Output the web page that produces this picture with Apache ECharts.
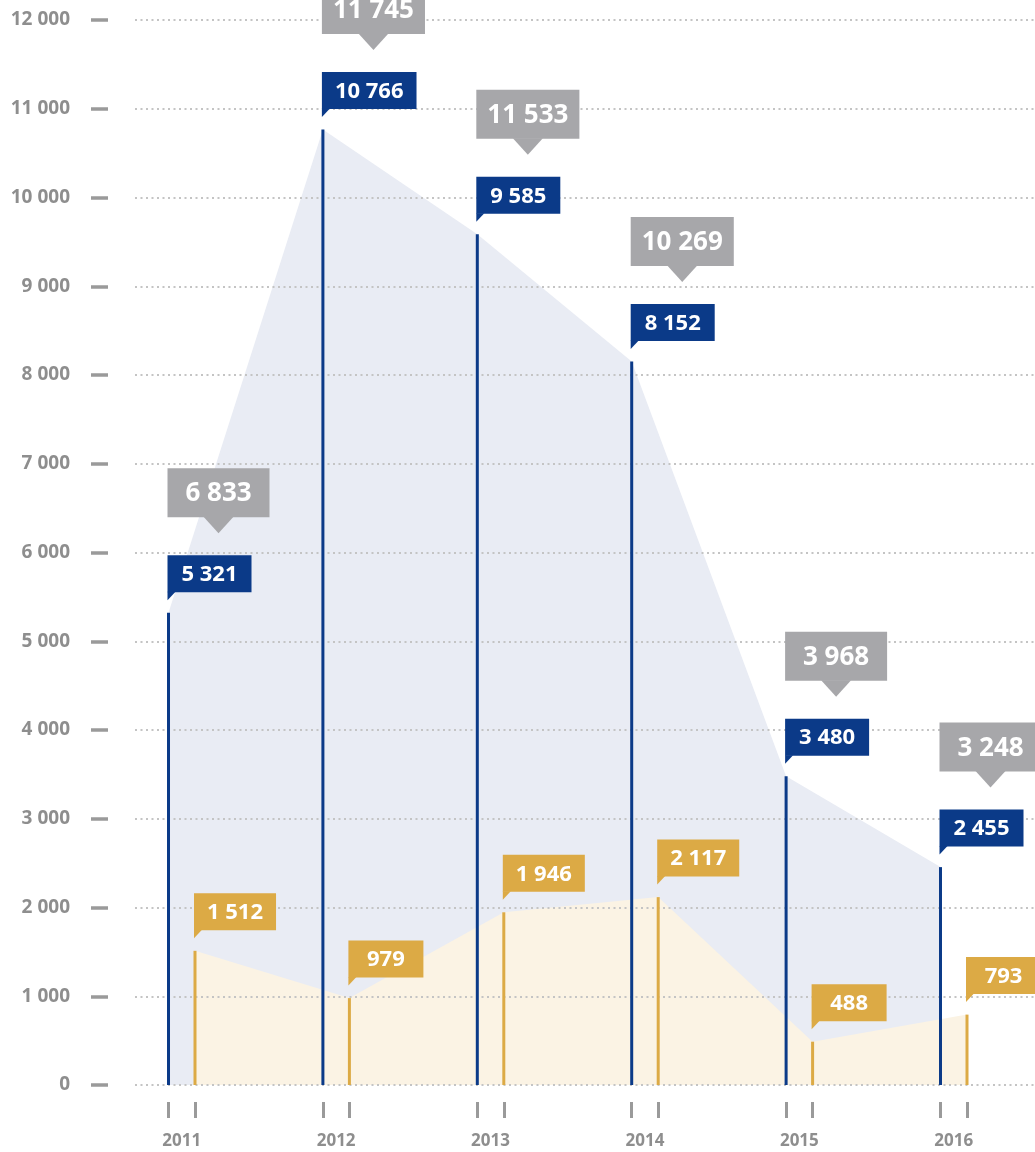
<!DOCTYPE html>
<html><head><meta charset="utf-8">
<script src="https://cdn.jsdelivr.net/npm/echarts@6/dist/echarts.min.js"></script>
<style>html,body{margin:0;padding:0;background:#fff}#c{width:1035px;height:1152px}</style>
</head><body><div id="c"></div>
<script>
// ---- data ----
const years = ['2011', '2012', '2013', '2014', '2015', '2016'];
const blueValues = [5321, 10766, 9585, 8152, 3480, 2455];
const yellowValues = [1512, 979, 1946, 2117, 488, 793];
const totalValues = [6833, 11745, 11533, 10269, 3968, 3248];
const yMin = 0, yMax = 12000, yStep = 1000;

// ---- style ----
const BLUE = '#0b3a88', YELLOW = '#dcaa45', GRAY = '#a7a7aa';
const BLUE_AREA = '#e9ecf4', YELLOW_AREA = '#fbf3e4';
const AXIS_TEXT = '#8e8e8e', TICK = '#9a9a9a';
const FONT = '"Open Sans", "DejaVu Sans", sans-serif';
const OFF = 0.1716;   // horizontal shift of the second bar within a year

const fmt = n => String(n).replace(/\B(?=(\d{3})+(?!\d))/g, ' ');
const mctx = document.createElement('canvas').getContext('2d');
function textW(t, size) { mctx.font = 'bold ' + size + 'px ' + FONT; return mctx.measureText(t).width; }

function makeRender(color, minW, withTotal) {
  return function (params, api) {
    const x = api.value(0), v = api.value(1);
    const top = api.coord([x, v]);
    const base = api.coord([x, 0]);
    const ch = [];
    ch.push({ type: 'rect', shape: { x: top[0] - 1.5, y: top[1], width: 3, height: base[1] - top[1] }, style: { fill: color } });
    const L = top[0] - 1;
    const bh = 37, bBottom = top[1] - 20.5, bTop = bBottom - bh;
    const label = fmt(v);
    const bw = Math.max(minW, textW(label, 22) + 26);
    ch.push({ type: 'rect', shape: { x: L, y: bTop, width: bw, height: bh }, style: { fill: color } });
    ch.push({ type: 'polygon', shape: { points: [[L, bBottom - 0.5], [L + 8, bBottom - 0.5], [L, bBottom + 8]] }, style: { fill: color } });
    ch.push({ type: 'text', x: L + bw / 2, y: bTop + bh / 2 + 1, style: { text: label, fill: '#fff', fontSize: 22, fontWeight: 'bold', fontFamily: FONT, align: 'center', verticalAlign: 'middle' } });
    if (withTotal) {
      const t = api.value(2);
      const gl = fmt(t);
      const gh = 49, gBottom = bTop - 38, gTop = gBottom - gh;
      const gw = Math.max(102, textW(gl, 26) + 22);
      const cx = L + gw / 2;
      ch.push({ type: 'rect', shape: { x: L, y: gTop, width: gw, height: gh }, style: { fill: GRAY } });
      ch.push({ type: 'polygon', shape: { points: [[cx - 15, gBottom - 0.5], [cx + 15, gBottom - 0.5], [cx, gBottom + 16]] }, style: { fill: GRAY } });
      ch.push({ type: 'text', x: cx, y: gTop + gh / 2 + 1, style: { text: gl, fill: '#fff', fontSize: 26, fontWeight: 'bold', fontFamily: FONT, align: 'center', verticalAlign: 'middle' } });
    }
    return { type: 'group', children: ch };
  };
}

const tickVals = [], labelVals = [];
years.forEach((y, i) => { tickVals.push(i, i + OFF); labelVals.push(i + OFF / 2); });

const chart = echarts.init(document.getElementById('c'), null, { renderer: 'canvas' });
chart.setOption({
  animation: false,
  backgroundColor: '#fff',
  grid: { left: 135, right: 0, top: 20, bottom: 67, containLabel: false },
  xAxis: {
    type: 'value', min: -0.217, max: 5.612, position: 'bottom', offset: 17,
    axisLine: { show: false, onZero: false },
    splitLine: { show: false },
    axisTick: { show: true, customValues: tickVals, length: 16, lineStyle: { color: TICK, width: 3 } },
    axisLabel: {
      customValues: labelVals, margin: 31, color: AXIS_TEXT, fontSize: 17, fontWeight: 'bold', fontFamily: FONT,
      formatter: v => years[Math.round(v)]
    }
  },
  yAxis: {
    type: 'value', min: yMin, max: yMax, interval: yStep, offset: 27, position: 'left',
    axisLine: { show: false, onZero: false },
    axisTick: { show: true, length: 17, lineStyle: { color: TICK, width: 3.5 } },
    axisLabel: { margin: 38, color: AXIS_TEXT, fontSize: 19, fontWeight: 'bold', fontFamily: FONT, formatter: v => fmt(v) },
    splitLine: { show: true, lineStyle: { color: '#c4c4c4', width: 2, type: [2, 3.5] } }
  },
  series: [
    { type: 'line', data: blueValues.map((v, i) => [i, v]), symbol: 'none', lineStyle: { width: 0, opacity: 0 }, areaStyle: { color: BLUE_AREA, opacity: 1 }, z: -2, silent: true },
    { type: 'line', data: yellowValues.map((v, i) => [i + OFF, v]), symbol: 'none', lineStyle: { width: 0, opacity: 0 }, areaStyle: { color: YELLOW_AREA, opacity: 1 }, z: -1, silent: true },
    { type: 'custom', data: blueValues.map((v, i) => [i, v, totalValues[i]]), encode: { x: 0, y: 1 }, renderItem: makeRender(BLUE, 84, true), clip: false, z: 5, silent: true },
    { type: 'custom', data: yellowValues.map((v, i) => [i + OFF, v]), encode: { x: 0, y: 1 }, renderItem: makeRender(YELLOW, 75, false), clip: false, z: 4, silent: true }
  ]
});
</script></body></html>
